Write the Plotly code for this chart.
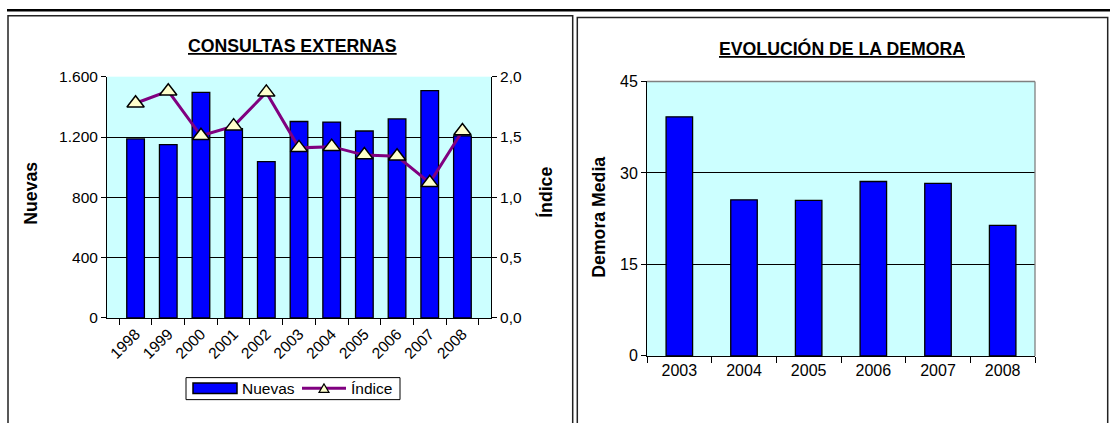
import plotly.graph_objects as go

W, H = 1110, 423

# ---- data ----
years_left = ["1998", "1999", "2000", "2001", "2002", "2003", "2004", "2005", "2006", "2007", "2008"]
nuevas = [1187, 1149, 1496, 1255, 1037, 1303, 1299, 1240, 1320, 1507, 1208]
indice = [1.78, 1.88, 1.51, 1.59, 1.87, 1.41, 1.42, 1.35, 1.34, 1.12, 1.55]

years_right = ["2003", "2004", "2005", "2006", "2007", "2008"]
demora = [39.2, 25.6, 25.5, 28.6, 28.3, 21.4]

left_title = "CONSULTAS EXTERNAS"
right_title = "EVOLUCIÓN DE LA DEMORA"
series_names = ["Nuevas", "Índice"]


def px(x):
    return x / W


def py(y):
    return 1 - y / H


FONT = "Liberation Sans, Arial, sans-serif"
BG = "#CCFFFF"
BAR = "#0000FF"
LINE = "#800080"
MARK = "#FFFFCC"

fig = go.Figure()

fig.add_trace(go.Bar(
    x=years_left, y=nuevas, name=series_names[0],
    marker=dict(color=BAR, line=dict(color="black", width=1.3)),
    xaxis="x", yaxis="y", width=0.54,
))
fig.add_trace(go.Scatter(
    x=years_left, y=indice, name=series_names[1], mode="lines+markers",
    line=dict(color=LINE, width=3),
    marker=dict(symbol="triangle-up", size=15, color=MARK,
                line=dict(color="black", width=1.5)),
    xaxis="x", yaxis="y2",
))
fig.add_trace(go.Bar(
    x=years_right, y=demora, name="Demora",
    marker=dict(color=BAR, line=dict(color="black", width=1.3)),
    xaxis="x3", yaxis="y3", width=0.41,
))

tickfont_l = dict(family=FONT, size=15.5, color="black")
tickfont_r = dict(family=FONT, size=16, color="black")

L_x0, L_x1, L_y0, L_y1 = 107, 491, 70.7, 322.7
R_x0, R_x1, R_y0, R_y1 = 647, 1035, 75.7, 362.3

fig.update_layout(
    width=W, height=H,
    margin=dict(l=0, r=0, t=0, b=0),
    paper_bgcolor="white", plot_bgcolor=BG,
    separators=",.",
    showlegend=False,
    font=dict(family=FONT, size=15, color="black"),
    xaxis=dict(domain=[px(L_x0), px(L_x1)], anchor="y", type="category",
               tickangle=-45, tickfont=tickfont_l, showline=True, linecolor="black",
               linewidth=1, ticks="outside", tickson="boundaries", ticklen=6,
               tickcolor="black", showgrid=False),
    yaxis=dict(domain=[py(L_y1), py(L_y0)], anchor="x", range=[0, 1600], dtick=400,
               tickformat=",d", tickfont=tickfont_l, showline=True, linecolor="black",
               ticks="outside", ticklen=5, tickcolor="black", showgrid=True,
               gridcolor="black", gridwidth=1, zeroline=False),
    yaxis2=dict(overlaying="y", anchor="x", side="right", range=[0, 2], dtick=0.5,
                tickformat=".1f", tickfont=tickfont_l, showline=True, linecolor="black",
                ticks="outside", ticklen=5, tickcolor="black", showgrid=False,
                zeroline=False),
    xaxis3=dict(domain=[px(R_x0), px(R_x1)], anchor="y3", type="category",
                tickfont=tickfont_r, showline=True, linecolor="black", ticks="outside",
                tickson="boundaries", ticklen=6, tickcolor="black", showgrid=False),
    yaxis3=dict(domain=[py(R_y1), py(R_y0)], anchor="x3", range=[0, 45], dtick=15,
                tickfont=tickfont_r, showline=True, linecolor="black", ticks="outside",
                ticklen=5, tickcolor="black", showgrid=True, gridcolor="black",
                gridwidth=1, zeroline=False),
)

TFONT = dict(family=FONT, size=17.7, color="black")
LFONT = dict(family=FONT, size=15.5, color="black")
annotations = [
    dict(text="<b><u>" + left_title + "</u></b>", x=px(292), y=py(39), font=TFONT),
    dict(text="<b><u>" + right_title + "</u></b>", x=px(841.5), y=py(41), font=TFONT),
    dict(text="<b>Nuevas</b>", x=px(31), y=py(193), textangle=-90, font=TFONT),
    dict(text="<b>Índice</b>", x=px(546), y=py(192), textangle=-90, font=TFONT),
    dict(text="<b>Demora Media</b>", x=px(599), y=py(218), textangle=-90, font=TFONT),
    # legend labels
    dict(text=series_names[0], x=px(240), y=py(396.5), font=LFONT, xanchor="left"),
    dict(text=series_names[1], x=px(349), y=py(396.5), font=LFONT, xanchor="left"),
]
for a in annotations:
    a.setdefault("xanchor", "center")
    a.update(xref="paper", yref="paper", showarrow=False, yanchor="middle")
fig.update_layout(annotations=annotations)


def tri_path(cx, cy, w, h):
    return (f"M {px(cx)},{py(cy - h / 2)} L {px(cx - w / 2)},{py(cy + h / 2)} "
            f"L {px(cx + w / 2)},{py(cy + h / 2)} Z")


shapes = [
    # top black rule
    dict(type="rect", x0=px(7), x1=1, y0=py(2.7), y1=1,
         fillcolor="black", line=dict(width=0)),
    # left panel frame
    dict(type="rect", x0=px(8), x1=px(572.7), y0=-0.05, y1=py(7),
         line=dict(color="#222222", width=1.5)),
    # right panel frame
    dict(type="rect", x0=px(577.3), x1=px(1107.7), y0=-0.05, y1=py(9),
         line=dict(color="#222222", width=1.5)),
    # right plot border (top & right, gray)
    dict(type="line", x0=px(R_x0), x1=px(R_x1), y0=py(R_y0), y1=py(R_y0),
         line=dict(color="#808080", width=1.3)),
    dict(type="line", x0=px(R_x1), x1=px(R_x1), y0=py(R_y0), y1=py(R_y1),
         line=dict(color="#808080", width=1.3)),
    # legend box (Excel style)
    dict(type="rect", x0=px(186), x1=px(400), y0=py(408), y1=py(385),
         fillcolor="white", line=dict(color="black", width=1)),
    dict(type="rect", x0=px(193), x1=px(237), y0=py(401.5), y1=py(390.5),
         fillcolor=BAR, line=dict(color="black", width=1.5)),
    dict(type="line", x0=px(302), x1=px(346), y0=py(396), y1=py(396),
         line=dict(color=LINE, width=3)),
    dict(type="path", path=tri_path(324, 396, 10, 9), fillcolor=MARK,
         line=dict(color="black", width=1.2)),
]
for s in shapes:
    s.update(xref="paper", yref="paper")
fig.update_layout(shapes=shapes)

fig.write_html(
    "out.html",
    config={"displayModeBar": False},
    post_script=(
        "document.documentElement.style.margin='0';"
        "document.body.style.margin='0';document.body.style.padding='0';"
        "document.body.style.overflow='hidden';"
        "var d=document.querySelector('.plotly-graph-div');"
        "d.style.position='absolute';d.style.top='0px';d.style.left='0px';"
    ),
)
